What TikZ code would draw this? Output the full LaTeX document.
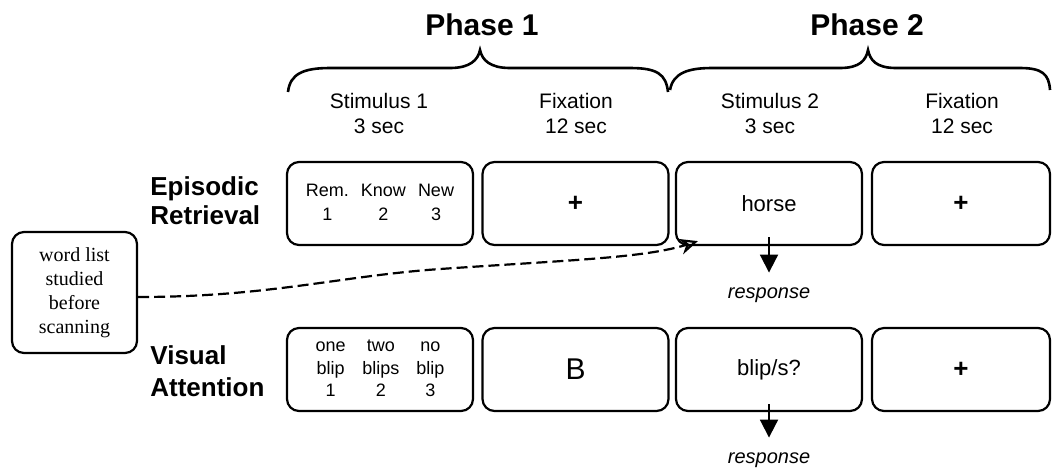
\documentclass[tikz,border=0pt]{standalone}
\usepackage{fontspec}
\setmainfont{Liberation Sans}
\newfontfamily\wlserif{Liberation Serif}
\usetikzlibrary{arrows.meta}
\begin{document}
\begin{tikzpicture}[x=0.5pt,y=-0.5pt,
 cell/.style={draw, line width=1.1pt, rounded corners=6pt, minimum width=93pt, minimum height=41.5pt, inner sep=0pt},
 hdr/.style={align=center, inner sep=0pt, font=\fontsize{10.5}{12.5}\selectfont},
 rowlbl/.style={align=left, anchor=west, inner sep=0pt, font=\bfseries\fontsize{13}{14.5}\selectfont},
 phase/.style={anchor=base, inner sep=0pt, font=\bfseries\fontsize{15}{18}\selectfont},
 bracepath/.style={line width=1.3pt},
 resp/.style={inner sep=0pt, font=\itshape\fontsize{10}{12}\selectfont},
 resparrow/.style={line width=1pt, -{Triangle[length=9pt,width=9pt]}},
 plus/.style={font=\bfseries\fontsize{13}{15}\selectfont},
 word/.style={font=\fontsize{11}{13}\selectfont},
 studybox/.style={draw, line width=1.1pt, rounded corners=6pt, minimum width=62.5pt, minimum height=60.5pt, inner sep=0pt, align=center, font=\wlserif\fontsize{10}{12}\selectfont},
 flow/.style={line width=1.1pt, dash pattern=on 5.5pt off 2.5pt, -{Stealth[open,length=9pt,width=8pt]}}
 ]
\useasboundingbox (0,0) rectangle (1052,468);

% braces
\draw[bracepath] (288,92) .. controls (290,74) and (303,68) .. (330,68) -- (450,68)
  .. controls (470,68) and (478,60) .. (480,50) .. controls (482,60) and (490,68) .. (510,68)
  -- (630,68) .. controls (657,68) and (666,74) .. (668,92);
\draw[bracepath] (670,90) .. controls (673,73) and (688,68) .. (712,68) -- (840,68)
  .. controls (860,68) and (866,60) .. (868,50) .. controls (870,60) and (876,68) .. (896,68)
  -- (1020,68) .. controls (1042,68) and (1049,74) .. (1050,90);

\node[phase] (p1) at (482,35) {Phase 1};
\node[phase] (p2) at (867,35) {Phase 2};

% column headers
\node[hdr] (h1) at (379,113) {Stimulus 1\\3 sec};
\node[hdr] (h2) at (576,113) {Fixation\\12 sec};
\node[hdr] (h3) at (770,113) {Stimulus 2\\3 sec};
\node[hdr] (h4) at (962,113) {Fixation\\12 sec};

% row labels
\node[rowlbl] (er) at (150,201) {Episodic\\Retrieval};
\node[rowlbl, font=\bfseries\fontsize{13}{16}\selectfont] (va) at (150,371.5) {Visual\\Attention};

% row 1
\node[cell] (es1) at (380,203.5) {\fontsize{9}{12}\selectfont\setlength{\tabcolsep}{3pt}\begin{tabular}{@{}ccc@{}}Rem. & Know & New\\ 1 & 2 & 3\end{tabular}};
\node[cell, plus] (ef1) at (575.5,203.5) {+};
\node[cell, word] (es2) at (769,203.5) {horse};
\node[cell, plus, minimum width=89pt] (ef2) at (961,203.5) {+};

% row 2
\node[cell] (vs1) at (380,369.5) {\fontsize{9}{11.25}\selectfont\setlength{\tabcolsep}{4.2pt}\begin{tabular}{@{}ccc@{}}one & two & no\\ blip & blips & blip\\ 1 & 2 & 3\end{tabular}};
\node[cell, font=\fontsize{15}{18}\selectfont] (vf1) at (575.5,369.5) {B};
\node[cell, word] (vs2) at (769,369.5) {blip/s?};
\node[cell, plus, minimum width=89pt] (vf2) at (961,369.5) {+};

% study box
\node[studybox] (wl) at (74.5,292.5) {word list\\studied\\before\\scanning};

% responses
\node[resp] (r1) at (769,295) {response};
\node[resp] (r2) at (769,460) {response};
\draw[resparrow] ([yshift=4.5pt]es2.south) -- ([yshift=7.3pt]r1.north);
\draw[resparrow] ([yshift=4pt]vs2.south) -- ([yshift=7.3pt]r2.north);

% dashed link
\draw[flow] ([yshift=-2.25pt]wl.east) .. controls +(130,0) and (340,276) .. (440,269)
  .. controls (570,260) and (645,258) .. ([shift={(23,-5)}]es2.south west);
\end{tikzpicture}
\end{document}
